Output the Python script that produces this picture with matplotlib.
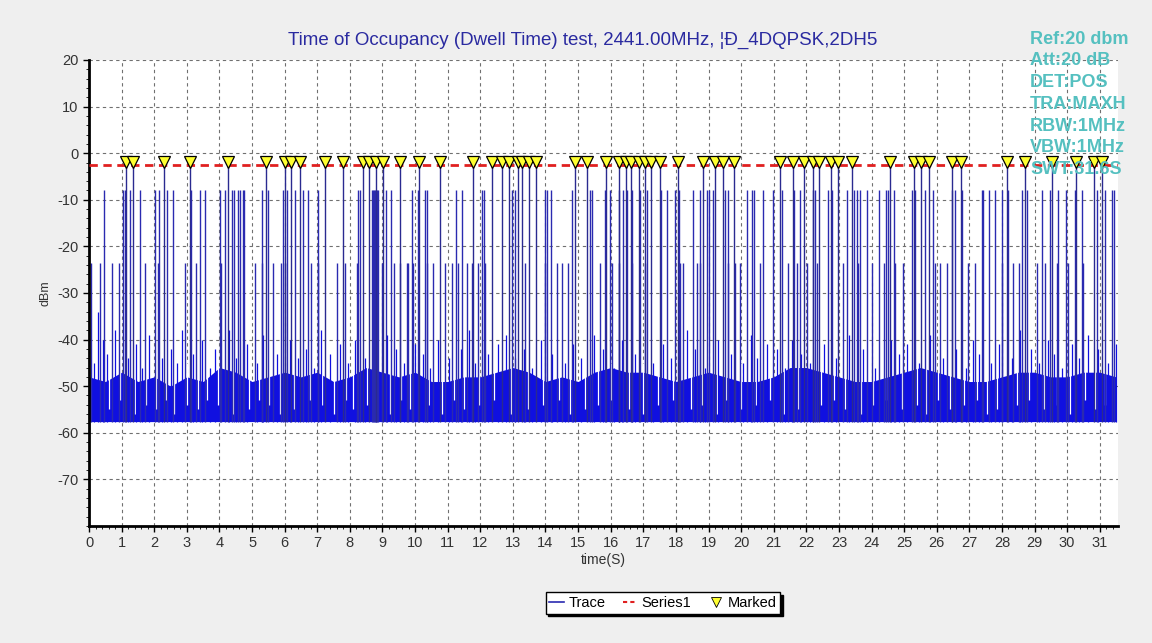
import matplotlib
matplotlib.use('Agg')
import matplotlib.pyplot as plt
from matplotlib.lines import Line2D
from matplotlib.ticker import MultipleLocator
import numpy as np

plt.rcParams['font.family'] = ['Liberation Sans', 'DejaVu Sans']
plt.rcParams['axes.unicode_minus'] = False

TITLE = 'Time of Occupancy (Dwell Time) test, 2441.00MHz, ¦Ð_4DQPSK,2DH5'
INFO = ['Ref:20 dbm', 'Att:20 dB', 'DET:POS', 'TRA:MAXH', 'RBW:1MHz', 'VBW:1MHz', 'SWT:31.6S']

sweep_time = 31.56
floor_bottom = -57.6
limit_level = -2.6      # Series1
peak_level = -1.8       # marked peaks
high_level = -8.0
mid_level = -23.5

# marked peaks (s)
marked_t = [1.13, 1.35, 2.30, 3.09, 4.26, 5.42, 6.00, 6.20, 6.46, 7.23, 7.79, 8.41, 8.59,
            8.80, 9.03, 9.54, 10.12, 10.77, 11.79, 12.35, 12.68, 12.88, 13.17, 13.27, 13.50,
            13.70, 14.91, 15.28, 15.85, 16.24, 16.47, 16.62, 16.87, 17.06, 17.23, 17.52,
            18.05, 18.84, 19.20, 19.43, 19.79, 21.20, 21.59, 21.93, 22.22, 22.39, 22.75,
            22.97, 23.40, 24.57, 25.29, 25.52, 25.75, 26.48, 26.74, 28.15, 28.71, 29.53,
            30.27, 30.83, 31.06]

# bursts reaching about -8 dBm
high_t = [0.46, 1.04, 1.09, 1.25, 1.55, 2.02, 2.15, 2.40, 2.58, 3.12, 3.40, 3.57, 4.01,
          4.16, 4.39, 4.45, 4.57, 4.62, 4.72, 4.75, 5.29, 5.49, 5.95, 6.07, 6.31, 6.56,
          6.72, 7.02, 8.24, 8.31, 8.67, 8.70, 8.73, 8.77, 8.80, 8.83, 8.87, 9.10, 9.27,
          9.90, 10.10, 10.31, 10.36, 11.25, 11.45, 12.05, 12.10, 12.96, 13.07, 13.99,
          14.04, 14.17, 14.81, 15.37, 15.42, 15.83, 15.98, 16.24, 16.39, 16.49, 16.65,
          16.90, 17.11, 17.53, 17.72, 17.97, 18.08, 18.52, 18.74, 18.95, 19.00, 19.15,
          19.51, 19.61, 20.17, 20.33, 20.38, 20.68, 20.99, 21.25, 21.61, 21.81, 22.22,
          22.27, 22.68, 22.78, 23.24, 23.46, 23.55, 23.65, 23.85, 24.23, 24.44, 24.52,
          24.70, 25.24, 25.34, 25.64, 25.90, 26.46, 26.56, 26.77, 27.38, 27.43, 27.59,
          27.79, 28.00, 28.20, 28.61, 28.76, 29.22, 29.48, 29.73, 29.96, 30.24, 30.45,
          30.91, 31.17, 31.37, 31.45]

# bursts reaching about -24 dBm
mid_t = [0.07, 0.33, 0.69, 0.91, 1.71, 2.12, 2.93, 3.29, 4.06, 5.08, 5.29, 5.64, 5.90,
         6.00, 6.82, 7.02, 7.59, 7.85, 8.21, 8.98, 9.34, 9.54, 9.74, 9.79, 9.95, 10.36,
         10.56, 10.92, 11.14, 11.33, 11.58, 11.74, 11.94, 12.14, 13.37, 13.99, 14.35,
         14.50, 14.70, 15.68, 16.03, 16.24, 16.65, 17.06, 18.13, 18.23, 18.64, 18.74,
         19.61, 19.82, 19.97, 20.58, 21.45, 21.71, 22.01, 22.32, 23.14, 23.60, 24.01,
         24.37, 24.72, 24.98, 25.95, 26.10, 26.31, 26.97, 27.18, 28.00, 28.35, 28.51,
         29.07, 29.33, 29.68, 30.04, 30.50]

# smaller spikes above the noise
low_t = [0.15, 0.28, 0.42, 0.55, 0.80, 1.20, 1.45, 1.62, 1.85, 2.25, 2.50, 2.70, 2.85,
         3.20, 3.45, 3.70, 3.85, 4.30, 4.50, 4.85, 5.15, 5.35, 5.75, 6.15, 6.40, 6.65,
         6.90, 7.10, 7.40, 7.70, 7.95, 8.15, 8.45, 9.15, 9.40, 9.65, 10.00, 10.25, 10.45,
         10.70, 11.05, 11.40, 11.65, 11.85, 12.25, 12.55, 12.80, 13.05, 13.35, 13.60,
         13.85, 14.20, 14.60, 14.85, 15.10, 15.50, 15.75, 16.10, 16.35, 16.75, 17.30,
         17.60, 17.85, 18.35, 18.60, 18.90, 19.30, 19.70, 20.05, 20.30, 20.50, 20.80,
         21.10, 21.35, 21.55, 21.85, 22.10, 22.55, 22.90, 23.30, 23.75, 24.10, 24.60,
         24.85, 25.10, 25.45, 25.80, 26.20, 26.60, 26.90, 27.10, 27.30, 27.65, 27.90,
         28.30, 28.55, 28.90, 29.15, 29.40, 29.60, 29.85, 30.15, 30.35, 30.65, 30.95,
         31.25, 31.50]
low_v = [-45, -34, -40, -43, -38, -44, -41, -46, -39, -44, -42, -45, -38, -43, -40, -46,
         -42, -38, -44, -41, -45, -39, -43, -40, -44, -42, -46, -38, -43, -41, -45, -40,
         -44, -39, -42, -45, -41, -43, -46, -40, -44, -42, -38, -45, -43, -41, -39, -44,
         -42, -46, -40, -43, -45, -41, -44, -39, -42, -46, -40, -43, -45, -41, -44, -38,
         -42, -46, -40, -43, -45, -39, -44, -41, -42, -46, -40, -43, -45, -41, -44, -39,
         -42, -46, -40, -43, -41, -45, -39, -44, -42, -46, -40, -43, -45, -41, -44, -38,
         -42, -45, -40, -43, -46, -41, -44, -39, -42, -45, -41]

# upper edge of the dense noise band, every 0.5 s
noise_top = [-48, -49, -47, -49, -48, -50, -48, -49, -46, -47, -49, -48, -47, -48, -47, -49,
             -48, -46, -47, -48, -47, -49, -49, -48, -48, -47, -46, -47, -49, -48, -49, -47,
             -46, -47, -47, -48, -49, -48, -47, -48, -49, -49, -48, -46, -46, -47, -48, -49,
             -49, -48, -47, -46, -47, -48, -49, -49, -48, -47, -47, -48, -48, -47, -47, -48]
noise_t = np.arange(len(noise_top)) * 0.5

# gaps in the noise (trace dips)
dip_t = [0.60, 0.95, 1.40, 1.75, 2.05, 2.35, 2.62, 3.00, 3.35, 3.62, 3.95, 4.42, 4.90,
         5.20, 5.52, 5.85, 6.28, 6.78, 7.15, 7.50, 7.87, 8.10, 8.52, 9.22, 9.57, 9.85,
         10.42, 10.82, 11.20, 11.50, 11.97, 12.42, 12.95, 13.45, 13.93, 14.42, 14.75,
         15.20, 15.60, 16.00, 16.55, 17.00, 17.45, 17.92, 18.45, 18.80, 19.25, 19.55,
         20.00, 20.45, 20.90, 21.30, 21.75, 22.45, 22.85, 23.20, 23.68, 24.05, 24.45,
         24.93, 25.38, 25.68, 26.05, 26.42, 26.83, 27.25, 27.55, 27.85, 28.45, 28.82,
         29.30, 29.70, 30.10, 30.55, 30.85, 31.15]
dip_v = [-55, -53, -56, -54, -55, -53, -56, -54, -55, -53, -54, -56, -55, -53, -54, -56,
         -55, -53, -54, -56, -53, -55, -54, -56, -53, -55, -54, -56, -53, -55, -54, -53,
         -56, -55, -54, -53, -56, -55, -54, -53, -55, -56, -54, -53, -55, -54, -56, -53,
         -55, -54, -53, -56, -55, -54, -53, -55, -56, -54, -53, -55, -54, -56, -53, -55,
         -54, -53, -56, -55, -54, -53, -55, -54, -56, -53, -55, -54]

BLUE = '#1010e0'
LINE = '#2a2ab0'

fig = plt.figure(figsize=(11.52, 6.43), dpi=100)
fig.patch.set_facecolor('#efefef')
ax = fig.add_axes([0.0773, 0.182, 0.8932, 0.7247])
ax.set_facecolor('white')

# noise band
ax.fill_between(noise_t, floor_bottom, noise_top, color=BLUE, lw=0, zorder=2)
ax.vlines(dip_t, dip_v, -45, color='white', lw=0.9, zorder=2.1)
ax.vlines(low_t, floor_bottom, low_v, color=BLUE, lw=0.9, zorder=2.2)
ax.vlines(mid_t, floor_bottom, mid_level, color=LINE, lw=1.0, zorder=2.2)
ax.vlines(high_t, floor_bottom, high_level, color=LINE, lw=1.0, zorder=2.2)
ax.vlines(marked_t, floor_bottom, peak_level, color='#2a2a90', lw=1.0, zorder=2.2)

ax.axhline(limit_level, color='#e02020', lw=2, dashes=(3, 2), zorder=3)
ax.plot(marked_t, [peak_level] * len(marked_t), ls='none', marker='v', ms=9,
        mfc='#ffff30', mec='black', mew=0.9, zorder=4)

ax.set_xlim(0, sweep_time)
ax.set_ylim(-80, 20)
ax.xaxis.set_major_locator(MultipleLocator(1))
ax.xaxis.set_minor_locator(MultipleLocator(0.2))
ax.yaxis.set_minor_locator(MultipleLocator(2))
ax.set_yticks(range(-70, 21, 10))
ax.grid(True, which='major', color='#707070', ls=(0, (3, 3)), lw=0.8, zorder=1)
ax.set_axisbelow(True)
ax.tick_params(labelsize=10.5, labelcolor='#333333', length=4, width=1)
ax.tick_params(which='minor', length=2)
for s in ['top', 'right']:
    ax.spines[s].set_visible(False)
for s in ['left', 'bottom']:
    ax.spines[s].set_linewidth(2)
    ax.spines[s].set_color('black')

ax.set_xlabel('time(S)', fontsize=10, color='#333333', labelpad=2)
ax.set_ylabel('dBm', fontsize=9, color='#333333', labelpad=4)

fig.text(583 / 1152, 1 - 40 / 643, TITLE, ha='center', va='center', fontsize=13.5, color='#2a2aa0')

for i, line in enumerate(INFO):
    fig.text(1030 / 1152, 1 - (39 + i * 21.8) / 643, line, ha='left', va='center',
             fontsize=13, fontweight='bold', color='#55c0c0', zorder=10)

handles = [Line2D([], [], color=LINE, lw=1.2),
           Line2D([], [], color='#e02020', lw=1.5, dashes=(2, 1.5)),
           Line2D([], [], ls='none', marker='v', ms=7, mfc='#ffff30', mec='black', mew=0.6)]
leg = fig.legend(handles, ['Trace', 'Series1', 'Marked'], loc='center',
                 bbox_to_anchor=(663 / 1152, 1 - 603 / 643), ncol=3, fontsize=10.5,
                 frameon=True, fancybox=False, shadow={'color': 'black', 'alpha': 1},
                 handlelength=1.0, handletextpad=0.3, columnspacing=1.2,
                 borderpad=0.25)
leg.get_frame().set_edgecolor('black')
leg.get_frame().set_linewidth(1)

fig.savefig('out.png', dpi=100, facecolor=fig.get_facecolor())
